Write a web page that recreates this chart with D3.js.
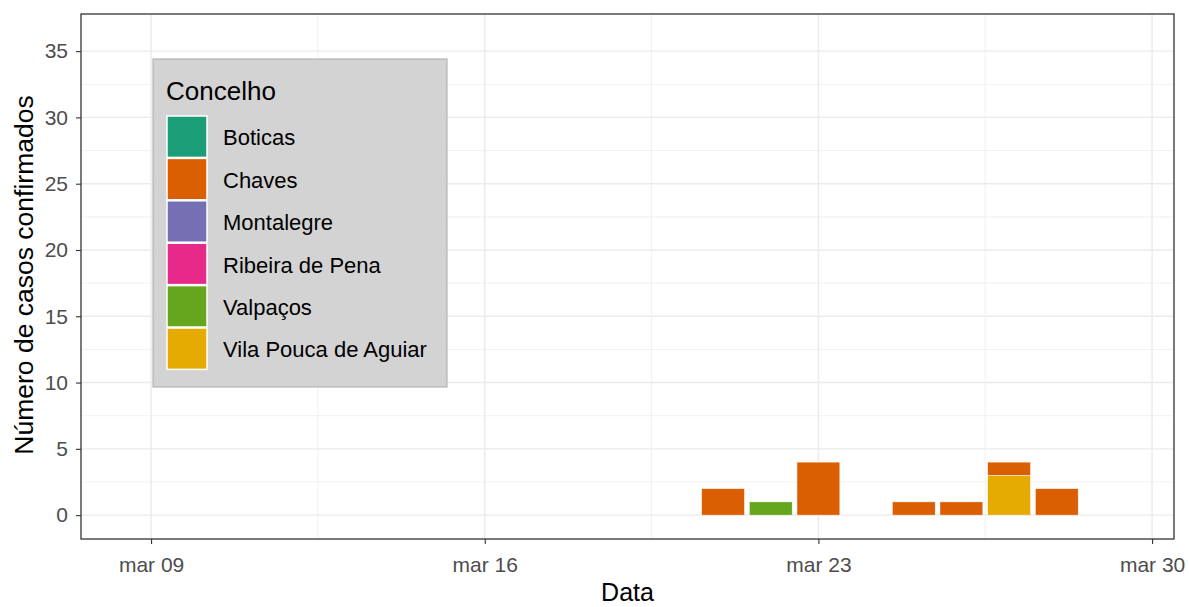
<!DOCTYPE html>
<html>
<head>
<meta charset="utf-8">
<script src="https://cdn.jsdelivr.net/npm/d3@7"></script>
<style>
  body { margin: 0; background: #fff; font-family: "Liberation Sans", Arial, sans-serif; }
  .axis text { fill: #4d4d4d; font-size: 21px; font-family: "Liberation Sans", Arial, sans-serif; }
  .axis path { display: none; }
  .axis line { stroke: #333; stroke-width: 1.1; }
  .axis-title { fill: #000; font-size: 25px; }
</style>
</head>
<body>
<svg id="chart" width="1189" height="607"></svg>
<script>
// Data
const concelhos = ["Boticas", "Chaves", "Montalegre", "Ribeira de Pena", "Valpaços", "Vila Pouca de Aguiar"];
const colors = ["#1B9E77", "#D95F02", "#7570B3", "#E7298A", "#66A61E", "#E6AB02"];
const dates = ["2020-03-21", "2020-03-22", "2020-03-23", "2020-03-25", "2020-03-26", "2020-03-27", "2020-03-28"];
const boticas = [0, 0, 0, 0, 0, 0, 0];
const chaves = [2, 0, 4, 1, 1, 1, 2];
const montalegre = [0, 0, 0, 0, 0, 0, 0];
const ribeira = [0, 0, 0, 0, 0, 0, 0];
const valpacos = [0, 1, 0, 0, 0, 0, 0];
const vilaPouca = [0, 0, 0, 0, 0, 3, 0];
const xTickDates = ["2020-03-09", "2020-03-16", "2020-03-23", "2020-03-30"];
const yTicks = [0, 5, 10, 15, 20, 25, 30, 35];

const seriesValues = [boticas, chaves, montalegre, ribeira, valpacos, vilaPouca];
const parseDate = d3.utcParse("%Y-%m-%d");
const rows = dates.map((d, i) => {
  const r = { date: parseDate(d) };
  concelhos.forEach((c, k) => { r[c] = seriesValues[k][i]; });
  return r;
});

const svgEl = d3.select("#chart");
const margin = { top: 14, right: 15, bottom: 68, left: 81 };
const innerW = 1189 - margin.left - margin.right;
const innerH = 607 - margin.top - margin.bottom;
const g = svgEl.append("g").attr("transform", `translate(${margin.left},${margin.top})`);

const DAY = 864e5;
const xScale = d3.scaleUtc()
  .domain([new Date(parseDate("2020-03-07").getTime() + 0.53 * DAY), new Date(parseDate("2020-03-30").getTime() + 0.46 * DAY)])
  .range([0, innerW]);
const yScale = d3.scaleLinear().domain([-1.8, 37.8]).range([innerH, 0]);

/* ---------- Grid ---------- */
const minorX = xTickDates.slice(0, -1).map(d => new Date(parseDate(d).getTime() + 3.5 * DAY));
const minorY = yTicks.slice(0, -1).map(v => v + 2.5);

g.selectAll(".gx-minor").data(minorX).join("line")
  .attr("x1", d => xScale(d)).attr("x2", d => xScale(d)).attr("y1", 0).attr("y2", innerH)
  .attr("stroke", "#ebebeb").attr("stroke-width", 0.7);
g.selectAll(".gy-minor").data(minorY).join("line")
  .attr("x1", 0).attr("x2", innerW).attr("y1", d => yScale(d)).attr("y2", d => yScale(d))
  .attr("stroke", "#ebebeb").attr("stroke-width", 0.7);
g.selectAll(".gx").data(xTickDates.map(parseDate)).join("line")
  .attr("x1", d => xScale(d)).attr("x2", d => xScale(d)).attr("y1", 0).attr("y2", innerH)
  .attr("stroke", "#ebebeb").attr("stroke-width", 1.4);
g.selectAll(".gy").data(yTicks).join("line")
  .attr("x1", 0).attr("x2", innerW).attr("y1", d => yScale(d)).attr("y2", d => yScale(d))
  .attr("stroke", "#ebebeb").attr("stroke-width", 1.4);

/* ---------- Stacked bars ---------- */
// ggplot stacks the last level at the bottom
const stack = d3.stack().keys(concelhos.slice().reverse());
const stacked = stack(rows);
const colorScale = d3.scaleOrdinal().domain(concelhos).range(colors);
const barW = 0.9 * (xScale(new Date(DAY)) - xScale(new Date(0)));

g.selectAll(".layer").data(stacked).join("g")
  .attr("fill", d => colorScale(d.key))
  .selectAll("rect").data(d => d.filter(p => p[1] - p[0] > 0)).join("rect")
  .attr("x", d => xScale(d.data.date) - barW / 2)
  .attr("width", barW)
  .attr("y", d => yScale(d[1]))
  .attr("height", d => yScale(d[0]) - yScale(d[1]))
  .attr("stroke", "#fff").attr("stroke-width", 0.5);

/* ---------- Axes ---------- */
const xAxis = d3.axisBottom(xScale)
  .tickValues(xTickDates.map(parseDate))
  .tickFormat(d => "mar " + d3.utcFormat("%d")(d))
  .tickSize(5).tickPadding(13);
const yAxis = d3.axisLeft(yScale).tickValues(yTicks).tickSize(5).tickPadding(8);

g.append("g").attr("class", "axis").attr("transform", `translate(0,${innerH})`).call(xAxis);
g.append("g").attr("class", "axis").call(yAxis);

g.append("rect").attr("width", innerW).attr("height", innerH)
  .attr("fill", "none").attr("stroke", "#333").attr("stroke-width", 1.3);

g.append("text").attr("class", "axis-title")
  .attr("x", innerW / 2).attr("y", innerH + 62).attr("text-anchor", "middle")
  .text("Data");
g.append("text").attr("class", "axis-title")
  .attr("transform", "rotate(-90)").attr("x", -261).attr("y", -48)
  .attr("text-anchor", "middle").style("font-size", "26.5px").text("Número de casos confirmados");

/* ---------- Legend ---------- */
const legend = svgEl.append("g").attr("transform", "translate(153,59)");
legend.append("rect").attr("width", 294).attr("height", 328)
  .attr("fill", "#d3d3d3").attr("stroke", "#a9a9a9").attr("stroke-width", 1);
legend.append("text").attr("x", 13).attr("y", 41)
  .attr("font-size", 26).attr("fill", "#000").text("Concelho");
const items = legend.selectAll(".item").data(concelhos).join("g")
  .attr("transform", (d, i) => `translate(14,${57 + i * 42.4})`);
items.append("rect").attr("width", 40).attr("height", 41.4)
  .attr("fill", d => colorScale(d)).attr("stroke", "#fff").attr("stroke-width", 1.5);
items.append("text").attr("x", 56).attr("y", 21).attr("dy", "0.38em")
  .attr("font-size", 22).attr("fill", "#000").text(d => d);
</script>
</body>
</html>
